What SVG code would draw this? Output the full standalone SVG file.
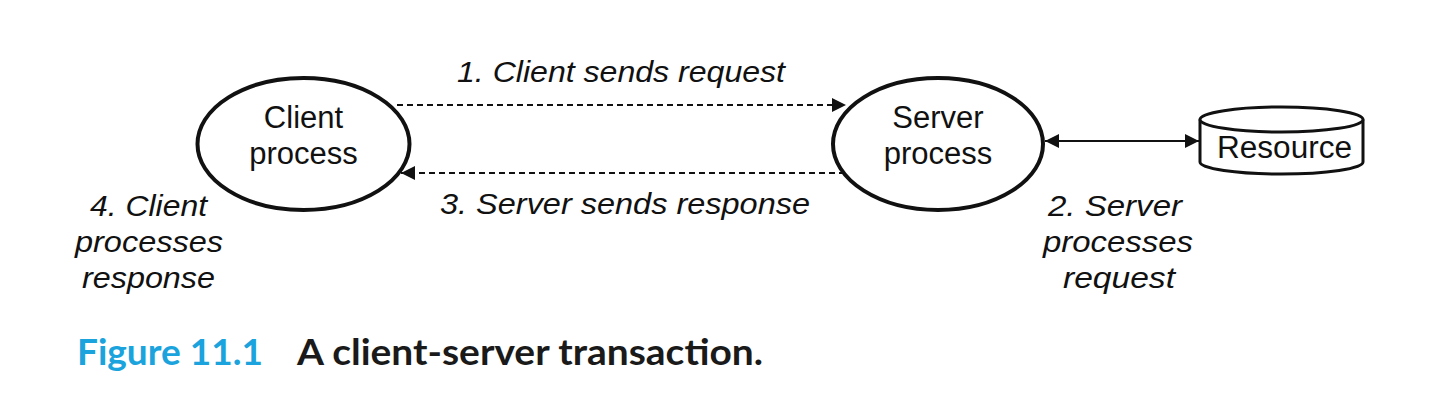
<svg xmlns="http://www.w3.org/2000/svg" width="1438" height="420" viewBox="0 0 1438 420">
  <style>
    .node { fill: #fff; stroke: #111; stroke-width: 4; }
    .cyl { fill: #fff; stroke: #111; stroke-width: 3; }
    .ntext { font-family: "Liberation Sans", Arial, sans-serif; font-size: 31px; fill: #111; text-anchor: middle; }
    .label { font-family: "Liberation Sans", Arial, sans-serif; font-size: 30px; font-style: italic; fill: #111; text-anchor: middle; }
    .dash { stroke: #111; stroke-width: 2; stroke-dasharray: 6 4; fill: none; }
    .solid { stroke: #111; stroke-width: 2; fill: none; }
    .cap { font-family: Lato, "Open Sans", sans-serif; font-weight: bold; font-size: 36px; }
  </style>
  <defs>
    <marker id="ah" markerUnits="userSpaceOnUse" markerWidth="14" markerHeight="14" refX="14" refY="7" orient="auto-start-reverse">
      <path d="M0,0 L14,7 L0,14 z" fill="#111"/>
    </marker>
  </defs>
  <rect width="1438" height="420" fill="#fff"/>

  <g id="connectors">
    <line class="dash" x1="397" y1="105" x2="846" y2="105" marker-end="url(#ah)"/>
    <line class="dash" x1="845" y1="173" x2="401" y2="173" marker-end="url(#ah)"/>
    <line class="solid" x1="1045" y1="141" x2="1199" y2="141" marker-start="url(#ah)" marker-end="url(#ah)"/>
  </g>

  <g id="client">
    <ellipse class="node" cx="303.5" cy="144" rx="106" ry="66"/>
    <text class="ntext" x="303.5" y="128">Client</text>
    <text class="ntext" x="303.5" y="164">process</text>
  </g>

  <g id="server">
    <ellipse class="node" cx="938" cy="144" rx="105" ry="66"/>
    <text class="ntext" x="938" y="128">Server</text>
    <text class="ntext" x="938" y="164">process</text>
  </g>

  <g id="resource">
    <path class="cyl" d="M1200,119.5 L1200,162 A81.5,12 0 0 0 1363,162 L1363,119.5"/>
    <ellipse class="cyl" cx="1281.5" cy="119.5" rx="81.5" ry="12.5"/>
    <text class="ntext" x="1284.5" y="158" textLength="135" lengthAdjust="spacingAndGlyphs">Resource</text>
  </g>

  <g id="labels">
    <text class="label" x="621" y="82" textLength="328" lengthAdjust="spacingAndGlyphs">1. Client sends request</text>
    <text class="label" x="625" y="214" textLength="370" lengthAdjust="spacingAndGlyphs">3. Server sends response</text>
    <text class="label" x="148.5" y="216" textLength="117" lengthAdjust="spacingAndGlyphs">4. Client</text>
    <text class="label" x="149" y="252" textLength="148" lengthAdjust="spacingAndGlyphs">processes</text>
    <text class="label" x="148.5" y="288" textLength="133" lengthAdjust="spacingAndGlyphs">response</text>
    <text class="label" x="1115" y="216" textLength="134" lengthAdjust="spacingAndGlyphs">2. Server</text>
    <text class="label" x="1118" y="252" textLength="150" lengthAdjust="spacingAndGlyphs">processes</text>
    <text class="label" x="1119" y="288" textLength="112" lengthAdjust="spacingAndGlyphs">request</text>
  </g>

  <g id="caption">
    <text class="cap" x="77" y="365" fill="#1aa3dc" textLength="186" lengthAdjust="spacingAndGlyphs">Figure 11.1</text>
    <text class="cap" x="297" y="365" fill="#1a1a1a" textLength="466" lengthAdjust="spacingAndGlyphs">A client-server transaction.</text>
  </g>
</svg>
